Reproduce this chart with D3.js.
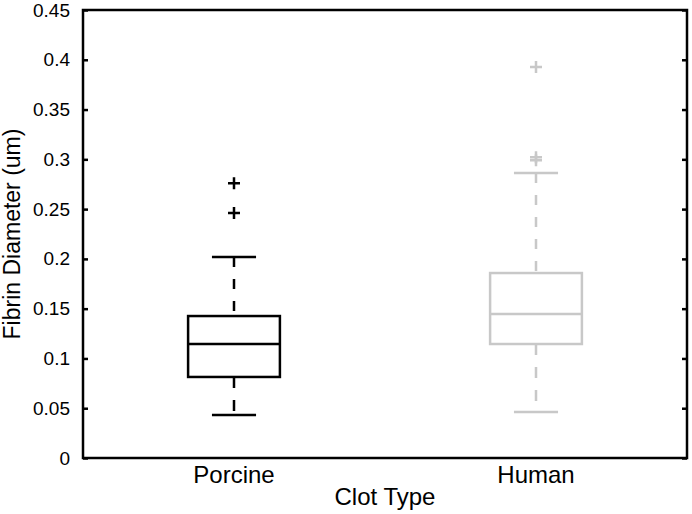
<!DOCTYPE html>
<html>
<head>
<meta charset="utf-8">
<script src="https://cdn.jsdelivr.net/npm/d3@7"></script>
<style>
  html, body { margin: 0; padding: 0; background: #fff; }
  text { font-family: "Liberation Sans", Arial, Helvetica, sans-serif; }
</style>
</head>
<body>
<svg id="chart" width="692" height="514"></svg>
<script>
// ---- data ----
const categories = ["Porcine", "Human"];
const colors = ["#000000", "#c8c8c8"];
const whiskerLow = [0.0432, 0.0462];
const q1 = [0.0814, 0.1145];
const median = [0.1145, 0.1446];
const q3 = [0.1426, 0.1858];
const whiskerHigh = [0.2019, 0.2863];
const outliers = [[0.276, 0.246], [0.3927, 0.302, 0.299]];
const yTicks = [0, 0.05, 0.1, 0.15, 0.2, 0.25, 0.3, 0.35, 0.4, 0.45];
const yTickLabels = ["0", "0.05", "0.1", "0.15", "0.2", "0.25", "0.3", "0.35", "0.4", "0.45"];
const xTitle = "Clot Type";
const yTitle = "Fibrin Diameter (um)";

// ---- layout ----
const W = 692, H = 514;
const m = { left: 83, right: 5, top: 10, bottom: 56 };
const svg = d3.select("#chart");
svg.append("rect").attr("width", W).attr("height", H).attr("fill", "#fff");

const x = d3.scaleLinear().domain([0.5, 2.5]).range([m.left, W - m.right]);
const y = d3.scaleLinear().domain([0, 0.45]).range([H - m.bottom, m.top]);

const boxHalf = 0.152, capHalf = 0.073, plusR = 6;

// boxes
categories.forEach((c, i) => {
  const cx = i + 1;
  const g = svg.append("g").attr("stroke", colors[i]).attr("fill", "none").attr("stroke-width", 2.5);
  // whiskers dashed
  g.append("line").attr("x1", x(cx)).attr("x2", x(cx)).attr("y1", y(whiskerHigh[i])).attr("y2", y(q3[i]))
    .attr("stroke-dasharray", "10,12");
  g.append("line").attr("x1", x(cx)).attr("x2", x(cx)).attr("y1", y(q1[i])).attr("y2", y(whiskerLow[i]))
    .attr("stroke-dasharray", "11,12");
  // caps
  [whiskerHigh[i], whiskerLow[i]].forEach(v => {
    g.append("line").attr("x1", x(cx - capHalf)).attr("x2", x(cx + capHalf)).attr("y1", y(v)).attr("y2", y(v));
  });
  // box
  g.append("rect").attr("x", x(cx - boxHalf)).attr("width", x(cx + boxHalf) - x(cx - boxHalf))
    .attr("y", y(q3[i])).attr("height", y(q1[i]) - y(q3[i]));
  // median
  g.append("line").attr("x1", x(cx - boxHalf)).attr("x2", x(cx + boxHalf)).attr("y1", y(median[i])).attr("y2", y(median[i]));
  // outliers
  outliers[i].forEach(v => {
    g.append("path").attr("d", `M${x(cx) - plusR},${y(v)}H${x(cx) + plusR}M${x(cx)},${y(v) - plusR}V${y(v) + plusR}`);
  });
  // category label
  svg.append("text").attr("x", x(cx)).attr("y", 483).attr("text-anchor", "middle")
    .attr("font-size", 24).attr("fill", "#000").text(c);
});

// axes
const yAxisL = d3.axisLeft(y).tickValues(yTicks).tickFormat((d, i) => yTickLabels[i]).tickSize(-5).tickPadding(13);
const gL = svg.append("g").attr("transform", `translate(${m.left},0)`).call(yAxisL);
gL.select(".domain").remove();
gL.selectAll(".tick line").attr("stroke", "#000").attr("stroke-width", 2.5);
gL.selectAll(".tick text").attr("font-size", 19).attr("fill", "#000")
  .attr("font-family", '"Liberation Sans", Arial, sans-serif');

const yAxisR = d3.axisRight(y).tickValues(yTicks).tickFormat("").tickSize(-5);
const gR = svg.append("g").attr("transform", `translate(${W - m.right},0)`).call(yAxisR);
gR.select(".domain").remove();
gR.selectAll(".tick line").attr("stroke", "#000").attr("stroke-width", 2.5);

// frame
svg.append("rect").attr("x", m.left).attr("y", m.top)
  .attr("width", W - m.right - m.left).attr("height", H - m.bottom - m.top)
  .attr("fill", "none").attr("stroke", "#000").attr("stroke-width", 2.5);

// titles
svg.append("text").attr("x", (m.left + W - m.right) / 2).attr("y", 505).attr("text-anchor", "middle")
  .attr("font-size", 24).attr("fill", "#000").text(xTitle);
svg.append("text").attr("transform", `translate(20,${(m.top + H - m.bottom) / 2}) rotate(-90)`)
  .attr("text-anchor", "middle").attr("font-size", 23).attr("fill", "#000").text(yTitle);
</script>
</body>
</html>
